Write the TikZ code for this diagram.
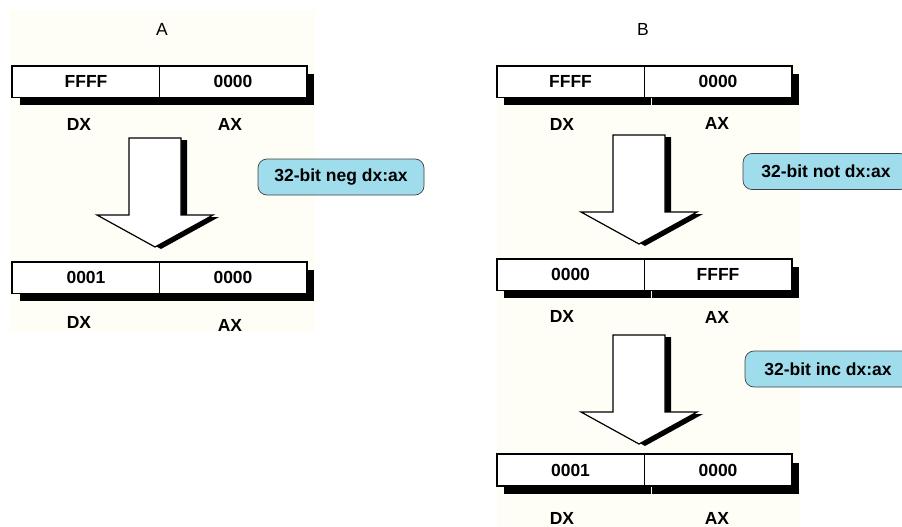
\documentclass[tikz,border=0pt]{standalone}
\usepackage{fontspec}
\setmainfont{Liberation Sans}
\usetikzlibrary{positioning,shadows}

\definecolor{callblue}{RGB}{160,221,236}
\definecolor{paper}{RGB}{255,254,246}

\tikzset{
  regcell/.style={draw, rectangle, fill=white, line width=0.7pt, inner sep=0pt,
                  minimum width=147pt, minimum height=31pt,
                  font=\fontsize{17.5}{19}\selectfont\bfseries,
                  drop shadow={shadow xshift=7pt, shadow yshift=-8pt, fill=black, opacity=1}},
  regframe/.style={draw, line width=1.5pt},
  regname/.style={font=\fontsize{17.5}{19}\selectfont\bfseries},
  panel/.style={font=\fontsize{17.5}{19}\selectfont},
  opnote/.style={draw=black!75, fill=callblue, rounded corners=9pt, line width=0.7pt,
                 minimum width=166pt, minimum height=36pt,
                 font=\fontsize{17.5}{19}\selectfont\bfseries},
  blockdown/.pic={
    \fill[black] (-20,2) -- (-20,79) -- (-52,79) -- (6,111) -- (64,79) -- (32,79) -- (32,2) -- cycle;
    \filldraw[fill=white, draw=black, line width=1.2pt]
      (-26,0) -- (-26,77) -- (-58,77) -- (0,109) -- (58,77) -- (26,77) -- (26,0) -- cycle;
  }
}

\begin{document}
\begin{tikzpicture}[x=1pt, y=-1pt]
\useasboundingbox (0,0) rectangle (902,527);
\clip (0,0) rectangle (902,527);
\fill[paper] (10,10) rectangle (315,332);
\fill[paper] (497,62) rectangle (800,527);

% A
\node[panel] (titleA) at (162,29) {A};

\node[regcell] (a1dx) at (86,81.5)  {FFFF};
\node[regcell] (a1ax) at (233,81.5) {0000};
\draw[regframe] (a1dx.north west) rectangle (a1ax.south east);
\node[regname] (a1dxlab) at (79,124)  {DX};
\node[regname] (a1axlab) at (230,124) {AX};

\pic (arrA) at (155,138) {blockdown};
\node[opnote] (negnote) at (341,177) {32-bit neg dx:ax};

\node[regcell] (a2dx) at (86,277.5)  {0001};
\node[regcell] (a2ax) at (233,277.5) {0000};
\draw[regframe] (a2dx.north west) rectangle (a2ax.south east);
\node[regname] (a2dxlab) at (79,322)  {DX};
\node[regname] (a2axlab) at (230,325) {AX};

% B
\node[panel] (titleB) at (643,29) {B};

\node[regcell] (b1dx) at (570.5,81.5) {FFFF};
\node[regcell] (b1ax) at (718,81.5)   {0000};
\draw[regframe] (b1dx.north west) rectangle (b1ax.south east);
\node[regname] (b1dxlab) at (562,124) {DX};
\node[regname] (b1axlab) at (717,123) {AX};

\pic (arrB1) at (639,135) {blockdown};
\node[opnote] (notnote) at (826,171.5) {32-bit not dx:ax};

\node[regcell] (b2dx) at (570.5,274.5) {0000};
\node[regcell] (b2ax) at (718,274.5)   {FFFF};
\draw[regframe] (b2dx.north west) rectangle (b2ax.south east);
\node[regname] (b2dxlab) at (562,316) {DX};
\node[regname] (b2axlab) at (717,317) {AX};

\pic (arrB2) at (639,335) {blockdown};
\node[opnote] (incnote) at (828,369) {32-bit inc dx:ax};

\node[regcell] (b3dx) at (570.5,470) {0001};
\node[regcell] (b3ax) at (718,470)   {0000};
\draw[regframe] (b3dx.north west) rectangle (b3ax.south east);
\node[regname] (b3dxlab) at (562,518) {DX};
\node[regname] (b3axlab) at (717,518) {AX};
\end{tikzpicture}
\end{document}
